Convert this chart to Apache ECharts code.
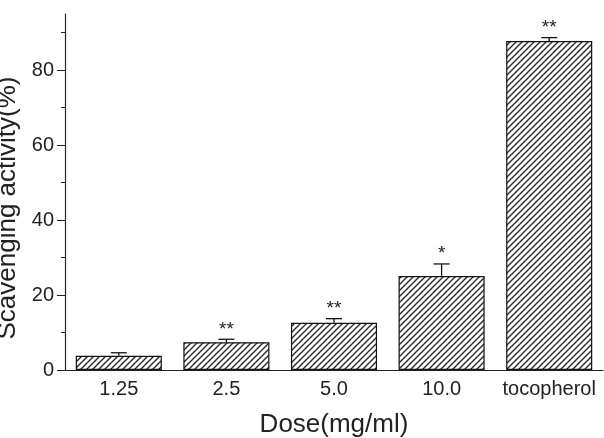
<!DOCTYPE html>
<html lang="en">
<head>
    <meta charset="UTF-8">
    <title>Scavenging activity</title>
    <script src="https://cdn.jsdelivr.net/npm/echarts@6/dist/echarts.min.js" type="text/javascript"></script>
    <style>
        html, body {margin: 0; padding: 0; background: #fff;}
        #chart {width: 604px; height: 438px;}
    </style>
</head>
<body>
<div id="chart"></div>

<script>
    // data
    var doses = ['1.25', '2.5', '5.0', '10.0', 'tocopherol'];
    var activity = [3.8, 7.4, 12.6, 25.1, 87.8];
    var errors = [0.8, 0.8, 1.1, 3.2, 0.9];
    var marks = ['', '**', '**', '*', '**'];
    var majorTicks = [0, 20, 40, 60, 80];
    var minorTicks = [10, 30, 50, 70, 90];

    // hatch fill "////"
    function hatch() {
        var s = 6;
        var c = document.createElement('canvas');
        c.width = s; c.height = s;
        var ctx = c.getContext('2d');
        ctx.fillStyle = '#fff';
        ctx.fillRect(0, 0, s, s);
        ctx.strokeStyle = '#2a2a2a';
        ctx.lineWidth = 1.4;
        ctx.beginPath();
        ctx.moveTo(-1, s + 1); ctx.lineTo(s + 1, -1);
        ctx.moveTo(-1, 1); ctx.lineTo(1, -1);
        ctx.moveTo(s - 1, s + 1); ctx.lineTo(s + 1, s - 1);
        ctx.stroke();
        return c;
    }

    var errData = activity.map(function (v, i) { return [i, v, errors[i]]; });

    var chart = echarts.init(document.getElementById('chart'));
    chart.setOption({
        animation: false,
        textStyle: {fontFamily: 'Liberation Sans'},
        grid: {left: 65, right: 1, top: 14, bottom: 68, outerBoundsMode: 'none', containLabel: false},
        xAxis: [{
            type: 'category',
            data: doses,
            name: 'Dose(mg/ml)',
            nameLocation: 'middle',
            nameGap: 42,
            nameTextStyle: {fontSize: 26, color: '#222'},
            axisLine: {lineStyle: {color: '#222', width: 1.2}},
            axisTick: {length: 4, lineStyle: {color: '#222'}},
            axisLabel: {fontSize: 20, color: '#222', margin: 9, interval: 0, hideOverlap: false}
        }, {
            type: 'category',
            data: doses,
            position: 'bottom',
            axisLine: {show: false},
            axisTick: {inside: true, length: 4, lineStyle: {color: '#222'}},
            axisLabel: {show: false}
        }],
        yAxis: [{
            type: 'value',
            min: 0,
            max: 95,
            interval: 20,
            name: 'Scavenging activity(%)',
            nameLocation: 'middle',
            nameGap: 44,
            nameTextStyle: {fontSize: 26, color: '#222', padding: [0, 32, 0, 0]},
            splitLine: {show: false},
            axisLine: {show: true, lineStyle: {color: '#222', width: 1.2}},
            axisTick: {show: true, length: 8, customValues: majorTicks, lineStyle: {color: '#222'}},
            axisLabel: {fontSize: 20, color: '#222', margin: 11, customValues: majorTicks}
        }, {
            type: 'value',
            min: 0,
            max: 95,
            position: 'left',
            splitLine: {show: false},
            axisLine: {show: false},
            axisTick: {show: true, length: 4, customValues: minorTicks, lineStyle: {color: '#222'}},
            axisLabel: {show: false}
        }],
        series: [{
            name: 'activity',
            type: 'bar',
            barWidth: '80%',
            data: activity,
            itemStyle: {
                color: {image: hatch(), repeat: 'repeat'},
                borderColor: '#111',
                borderWidth: 1.2
            }
        }, {
            name: 'error',
            type: 'custom',
            data: errData,
            z: 5,
            renderItem: function (params, api) {
                var i = api.value(0);
                var top = api.coord([i, api.value(1) + api.value(2)]);
                var base = api.coord([i, api.value(1)]);
                var style = {stroke: '#111', lineWidth: 1.3};
                return {
                    type: 'group',
                    children: [
                        {type: 'line', shape: {x1: base[0], y1: base[1], x2: top[0], y2: top[1]}, style: style},
                        {type: 'line', shape: {x1: top[0] - 8, y1: top[1], x2: top[0] + 8, y2: top[1]}, style: style},
                        {type: 'text', style: {
                            text: marks[i], x: top[0], y: top[1] - 10,
                            align: 'center', verticalAlign: 'middle',
                            font: '19px "Liberation Sans"', fill: '#222'
                        }}
                    ]
                };
            }
        }]
    });
</script>
</body>
</html>
